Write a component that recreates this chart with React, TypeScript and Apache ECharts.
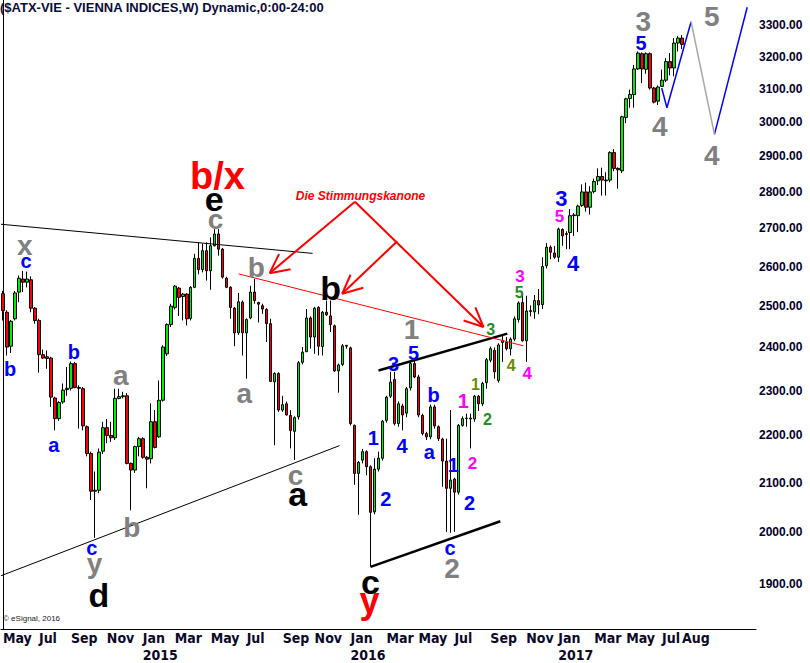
import React, { useEffect, useRef } from "react";
import * as echarts from "echarts";

// ---------- categories (weekly bars, Monday dates) ----------
const START_MS = Date.UTC(2014, 4, 5);
const TOTAL_WEEKS = 189; // includes empty weeks to the right
const weekDates: string[] = Array.from({ length: TOTAL_WEEKS }, (_, i) =>
  new Date(START_MS + i * 7 * 86400000).toISOString().slice(0, 10)
);
const MONTH_NAMES = ["Jan", "Feb", "Mar", "Apr", "May", "Jun", "Jul", "Aug", "Sep", "Oct", "Nov", "Dec"];

// ---------- weekly OHLC ----------
const opens = [
  2531, 2485, 2403, 2469, 2535, 2568, 2560, 2566, 2495, 2465, 2383, 2378, 2375, 2283, 2237, 2274, 2302, 2305, 2362, 2307,
  2304, 2219, 2161, 2082, 2084, 2166, 2217, 2200, 2195, 2282, 2286, 2288, 2140, 2126, 2176, 2193, 2153, 2150, 2230, 2197,
  2278, 2385, 2455, 2497, 2545, 2524, 2530, 2470, 2547, 2621, 2592, 2641, 2589, 2654, 2685, 2645, 2570, 2547, 2495, 2435,
  2510, 2435, 2471, 2535, 2509, 2501, 2492, 2457, 2320, 2339, 2256, 2270, 2244, 2209, 2241, 2365, 2390, 2471, 2425, 2497,
  2402, 2485, 2476, 2452, 2345, 2360, 2403, 2399, 2222, 2119, 2147, 2165, 2133, 2040, 2128, 2151, 2233, 2287, 2325, 2226,
  2265, 2249, 2306, 2362, 2331, 2244, 2204, 2197, 2263, 2219, 2192, 2145, 2088, 2107, 2080, 2222, 2237, 2238, 2236, 2287,
  2270, 2318, 2370, 2393, 2323, 2412, 2412, 2397, 2420, 2467, 2509, 2416, 2487, 2486, 2514, 2504, 2602, 2650, 2635, 2624,
  2697, 2684, 2689, 2734, 2734, 2762, 2799, 2757, 2800, 2830, 2842, 2832, 2832, 2910, 2865, 2858, 3013, 3070, 3082, 3161,
  3209, 3160, 3209, 3102, 3062, 3107, 3126, 3184, 3164, 3243, 3259,
];
const closes = [
  2489, 2401, 2463, 2533, 2570, 2560, 2568, 2495, 2465, 2383, 2375, 2374, 2285, 2237, 2273, 2301, 2305, 2362, 2307, 2305,
  2221, 2161, 2082, 2084, 2164, 2217, 2200, 2195, 2282, 2286, 2288, 2140, 2126, 2176, 2193, 2153, 2149, 2230, 2174, 2278,
  2401, 2455, 2500, 2550, 2522, 2530, 2469, 2547, 2621, 2592, 2641, 2589, 2654, 2685, 2645, 2573, 2547, 2497, 2435, 2511,
  2435, 2467, 2535, 2514, 2505, 2493, 2457, 2321, 2339, 2256, 2268, 2245, 2211, 2239, 2364, 2389, 2471, 2425, 2495, 2403,
  2485, 2479, 2455, 2345, 2359, 2404, 2405, 2226, 2119, 2142, 2165, 2133, 2039, 2128, 2151, 2231, 2285, 2319, 2226, 2270,
  2245, 2304, 2362, 2331, 2245, 2204, 2197, 2263, 2221, 2193, 2145, 2088, 2105, 2080, 2222, 2237, 2238, 2236, 2287, 2270,
  2316, 2371, 2397, 2343, 2406, 2416, 2397, 2420, 2469, 2508, 2416, 2488, 2489, 2514, 2503, 2600, 2650, 2637, 2624, 2698,
  2680, 2686, 2734, 2736, 2760, 2799, 2757, 2799, 2828, 2842, 2832, 2830, 2910, 2865, 2861, 3015, 3069, 3082, 3161, 3211,
  3161, 3209, 3102, 3059, 3105, 3126, 3184, 3164, 3243, 3259, 3238.59,
];
const lows = [
  2465, 2381, 2387, 2465, 2510, 2535, 2547, 2485, 2457, 2341, 2373, 2350, 2263, 2211, 2232, 2270, 2288, 2300, 2305, 2215,
  2211, 2155, 2064, 1988, 2078, 2160, 2183, 2186, 2190, 2280, 2282, 2138, 2043, 2120, 2155, 2150, 2088, 2140, 2172, 2195,
  2275, 2380, 2449, 2492, 2476, 2465, 2453, 2465, 2545, 2580, 2585, 2564, 2541, 2652, 2628, 2569, 2545, 2469, 2403, 2430,
  2381, 2327, 2468, 2506, 2460, 2481, 2413, 2320, 2179, 2252, 2252, 2244, 2172, 2147, 2235, 2360, 2389, 2397, 2385, 2381,
  2381, 2476, 2437, 2343, 2295, 2356, 2397, 2222, 2095, 2034, 2140, 2115, 1932, 2035, 2123, 2146, 2228, 2283, 2222, 2219,
  2211, 2240, 2300, 2328, 2240, 2200, 2190, 2192, 2215, 2188, 2091, 2000, 1998, 2000, 2075, 2219, 2219, 2172, 2230, 2254,
  2265, 2304, 2365, 2327, 2318, 2366, 2393, 2381, 2415, 2460, 2414, 2366, 2475, 2469, 2480, 2493, 2595, 2619, 2620, 2612,
  2654, 2645, 2645, 2680, 2690, 2758, 2745, 2737, 2795, 2818, 2789, 2789, 2826, 2857, 2808, 2852, 2996, 3042, 3042, 3158,
  3117, 3146, 3097, 3055, 3050, 3105, 3120, 3141, 3138, 3216, 3224,
];
const highs = [
  2538, 2490, 2466, 2538, 2577, 2589, 2587, 2575, 2498, 2469, 2395, 2393, 2378, 2286, 2276, 2316, 2354, 2367, 2366, 2312,
  2308, 2222, 2165, 2123, 2172, 2230, 2236, 2230, 2304, 2304, 2297, 2294, 2142, 2178, 2197, 2196, 2156, 2271, 2256, 2323,
  2405, 2458, 2506, 2553, 2548, 2533, 2532, 2550, 2633, 2663, 2659, 2663, 2676, 2698, 2698, 2648, 2574, 2550, 2498, 2533,
  2514, 2470, 2551, 2568, 2511, 2506, 2495, 2469, 2342, 2342, 2288, 2275, 2256, 2242, 2368, 2401, 2493, 2475, 2498, 2500,
  2488, 2514, 2514, 2455, 2362, 2408, 2406, 2402, 2224, 2145, 2171, 2168, 2136, 2151, 2165, 2234, 2288, 2343, 2343, 2275,
  2270, 2308, 2366, 2374, 2336, 2248, 2208, 2268, 2268, 2222, 2195, 2193, 2256, 2110, 2225, 2242, 2248, 2248, 2290, 2290,
  2320, 2375, 2402, 2400, 2410, 2428, 2425, 2424, 2475, 2512, 2528, 2526, 2502, 2528, 2543, 2624, 2661, 2655, 2653, 2702,
  2700, 2692, 2752, 2741, 2764, 2820, 2825, 2815, 2836, 2865, 2867, 2854, 2914, 2920, 2868, 3018, 3072, 3097, 3174, 3216,
  3213, 3213, 3213, 3105, 3110, 3159, 3195, 3211, 3259, 3266, 3269,
];
const lastPrice = 3238.59;
const priceTicks = [1900, 2000, 2100, 2200, 2300, 2400, 2500, 2600, 2700, 2800, 2900, 3000, 3100, 3200, 3300];

// ---------- wave-count labels: [text, bar index, price] ----------
const grayLabels: [string, number, number][] = [
  ["x", 5.43, 2655], ["a", 29.5, 2335], ["b", 32.25, 2008], ["y", 22.9, 1939], ["c", 53.2, 2725],
  ["b", 63.4, 2598], ["a", 60.4, 2294], ["c", 73.25, 2115], ["1", 102.25, 2443], ["2", 112.4, 1929],
  ["3", 160.3, 3312], ["4", 164.4, 2985], ["5", 177.4, 3330], ["4", 177.4, 2903],
];
const blackLabels: [string, number, number][] = [
  ["e", 52.85, 2779], ["b", 82, 2546], ["a", 73.8, 2077], ["c", 92, 1903], ["d", 24, 1879],
];
const redLargeLabels: [string, number, number][] = [["b/x", 53.7, 2844]];
const redLabels: [string, number, number][] = [["y", 91.75, 1868]];
const blueLabels: [string, number, number][] = [
  ["c", 5.8, 2613], ["b", 1.8, 2350], ["b", 17.75, 2390], ["a", 12.75, 2179], ["c", 22.25, 1969],
  ["1", 92.7, 2194], ["2", 95.8, 2066], ["3", 97.8, 2360], ["5", 102.8, 2387], ["4", 99.9, 2178],
  ["b", 107.8, 2290], ["a", 106.7, 2165], ["1", 112.7, 2137], ["2", 116.8, 2058], ["c", 111.9, 1969],
  ["5", 159.75, 3242],
];
const blueLargeLabels: [string, number, number][] = [["3", 139.8, 2781], ["4", 142.75, 2608]];
const magentaLargeLabels: [string, number, number][] = [["1", 115.2, 2276]];
const magentaLabels: [string, number, number][] = [
  ["2", 117.5, 2140], ["3", 129.4, 2575], ["5", 139.3, 2732], ["4", 131.25, 2340],
];
const greenLabels: [string, number, number][] = [["2", 121.25, 2234], ["3", 122.1, 2443], ["5", 129.25, 2535]];
const oliveLabels: [string, number, number][] = [["1", 118.25, 2313], ["4", 127.25, 2358]];
const captionLabels: [string, number, number][] = [["Die Stimmungskanone", 89.5, 2789]];

// ---------- annotation lines: [[index, price], [index, price]] ----------
type Seg = [[number, number], [number, number]];
const blackThinLines: Seg[] = [
  [[-0.5, 2711], [77.5, 2634]],
  [[-0.5, 1915], [84.25, 2178]],
];
const blackThickLines: Seg[] = [
  [[94, 2346], [126.25, 2433]],
  [[92, 1932], [124.5, 2021]],
];
const redThinLines: Seg[] = [[[59, 2581], [130.25, 2404]]];
const redArrowLines: Seg[] = [
  [[88.1, 2772], [66.75, 2583]], [[66.75, 2583], [69.1, 2632]], [[66.75, 2583], [72, 2593]],
  [[98.7, 2666], [84.9, 2531]], [[84.9, 2531], [87, 2579]], [[84.9, 2531], [90.2, 2546]],
  [[88.1, 2772], [120.3, 2449]], [[120.3, 2449], [118.25, 2497]], [[120.3, 2449], [115.3, 2465]],
];
const blueLines: Seg[] = [
  [[164.9, 3102], [166.2, 3042]],
  [[166.2, 3042], [172.25, 3312]],
  [[178.1, 2963], [186.3, 3360]],
];
const grayLines: Seg[] = [[[172.25, 3312], [178.1, 2963]]];

const FONT = "'Liberation Sans', Arial, Helvetica, sans-serif";
const NARROW = "'Liberation Sans Narrow', 'Arial Narrow', 'DejaVu Sans Condensed', 'Liberation Sans', sans-serif";
const ln = Math.log;

function monthOf(i: number) {
  return new Date(weekDates[i] + "T00:00:00Z").getUTCMonth();
}
function showLabel(i: number) {
  if (i >= opens.length) return false;
  const m = monthOf(i);
  if (i > 0 && monthOf(i - 1) === m) return false;
  return m % 2 === 0 || i === opens.length - 1;
}

function labelSeries(arr: [string, number, number][], color: string, size: number, extra: any = {}) {
  return {
    type: "scatter",
    xAxisIndex: 1,
    yAxisIndex: 0,
    symbolSize: 0,
    silent: true,
    clip: false,
    z: 10,
    itemStyle: { opacity: 1 },
    emphasis: { disabled: true },
    data: arr.map(([t, i, p]) => ({ value: [i, ln(p)], label: { formatter: t } })),
    label: {
      show: true,
      position: "inside",
      color,
      opacity: 1,
      fontSize: size,
      fontWeight: "bold",
      fontFamily: FONT,
      align: "center",
      verticalAlign: "middle",
      ...extra,
    },
  };
}

function lineSeries(arr: Seg[], color: string, width: number) {
  return {
    type: "lines",
    coordinateSystem: "cartesian2d",
    xAxisIndex: 1,
    yAxisIndex: 0,
    silent: true,
    z: 5,
    polyline: false,
    symbol: ["none", "none"],
    lineStyle: { color, width, opacity: 1, curveness: 0 },
    data: arr.map(([a, b]) => ({ coords: [[a[0], ln(a[1])], [b[0], ln(b[1])]] })),
  };
}

export default function App() {
  const ref = useRef<HTMLDivElement>(null);
  useEffect(() => {
    if (!ref.current) return;
    const chart = echarts.init(ref.current, undefined, { renderer: "svg" });
    const candles = opens.map((o, i) => [ln(o), ln(closes[i]), ln(lows[i]), ln(highs[i])]);
    chart.setOption({
      animation: false,
      backgroundColor: "#ffffff",
      title: {
        text: "($ATX-VIE - VIENNA INDICES,W) Dynamic,0:00-24:00",
        left: 0,
        top: 1,
        padding: 0,
        textStyle: { fontFamily: FONT, fontSize: 13, fontWeight: "bold", color: "#0b0b3b" },
      },
      graphic: [
        {
          type: "text",
          left: 3,
          top: 614,
          style: { text: "© eSignal, 2016", fontSize: 8, fontFamily: FONT, fill: "#222" },
        },
      ],
      grid: { left: 0, right: 54, top: 0, bottom: 32, containLabel: false },
      xAxis: [
        {
          type: "category",
          data: weekDates,
          boundaryGap: true,
          axisLine: { show: true, lineStyle: { color: "#000", width: 1 } },
          axisTick: { show: false },
          splitLine: { show: false },
          axisLabel: {
            interval: (index: number) => showLabel(index),
            formatter: (_v: string, index: number) => {
              const m = monthOf(index);
              const name = MONTH_NAMES[m];
              return m === 0 ? name + "\n" + weekDates[index].slice(0, 4) : name;
            },
            align: "left",
            margin: 0,
            lineHeight: 17,
            fontSize: 14,
            fontWeight: "bold",
            fontFamily: NARROW,
            color: "#0a0a28",
            hideOverlap: false,
          },
        },
        {
          type: "value",
          show: false,
          min: -0.5,
          max: TOTAL_WEEKS - 0.5,
          splitLine: { show: false },
        },
      ],
      yAxis: {
        type: "value",
        position: "right",
        min: ln(1816.8),
        max: ln(3384),
        axisLine: { show: true, lineStyle: { color: "#000", width: 1 } },
        axisTick: { show: false },
        splitLine: { show: false },
        axisLabel: {
          customValues: priceTicks.map((p) => ln(p)),
          formatter: (v: number) => (Math.round(Math.exp(v) / 100) * 100).toFixed(2),
          margin: 3,
          fontSize: 12,
          fontWeight: "bold",
          fontFamily: FONT,
          color: "#00002a",
        },
      },
      series: [
        {
          type: "candlestick",
          xAxisIndex: 0,
          yAxisIndex: 0,
          data: candles,
          barWidth: 3,
          z: 2,
          itemStyle: {
            color: "#00ee00",
            color0: "#ff0000",
            borderColor: "#000000",
            borderColor0: "#000000",
            borderColorDoji: "#000000",
            borderWidth: 1,
          },
          markLine: {
            silent: true,
            symbol: ["none", "none"],
            lineStyle: { opacity: 0, width: 0 },
            data: [{ yAxis: ln(lastPrice) }],
            label: {
              show: true,
              position: "end",
              distance: 1,
              formatter: lastPrice.toFixed(3),
              backgroundColor: "#ff0000",
              color: "#ffffff",
              fontSize: 12,
              fontWeight: "bold",
              fontFamily: FONT,
              padding: [1, 2, 0, 2],
            },
          },
        },
        lineSeries(blackThinLines, "#000000", 1),
        lineSeries(blackThickLines, "#000000", 2.5),
        lineSeries(redThinLines, "#ff0000", 1),
        lineSeries(redArrowLines, "#ff0000", 2),
        lineSeries(blueLines, "#0000ff", 1.5),
        lineSeries(grayLines, "#a8a8a8", 1.5),
        labelSeries(grayLabels, "#808080", 28),
        labelSeries(blackLabels, "#000000", 34),
        labelSeries(redLargeLabels, "#ff0000", 38),
        labelSeries(redLabels, "#ff0000", 36),
        labelSeries(blueLabels, "#0000ff", 20),
        labelSeries(blueLargeLabels, "#0000ff", 22),
        labelSeries(magentaLargeLabels, "#ff00ff", 20),
        labelSeries(magentaLabels, "#ff00ff", 17),
        labelSeries(greenLabels, "#238b23", 16),
        labelSeries(oliveLabels, "#6b8e00", 16),
        labelSeries(captionLabels, "#ff0000", 12, { fontStyle: "italic" }),
      ],
    });
    return () => chart.dispose();
  }, []);
  return (
    <div
      ref={ref}
      style={{ position: "fixed", left: 0, top: 0, width: 810, height: 663, background: "#fff" }}
    />
  );
}
